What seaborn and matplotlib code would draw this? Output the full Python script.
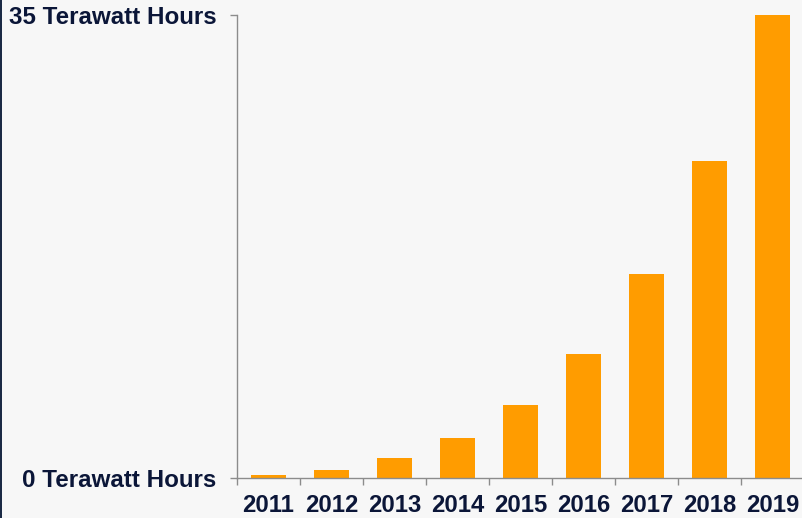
import matplotlib
matplotlib.use("Agg")
import matplotlib.pyplot as plt
import seaborn as sns
import pandas as pd
import numpy as np
from matplotlib.patches import Rectangle

sns.set_theme(style="white")
plt.rcParams["font.family"] = ["Liberation Sans", "DejaVu Sans"]

# data
years = ["2011", "2012", "2013", "2014", "2015", "2016", "2017", "2018", "2019"]
twh = [0.23, 0.6, 1.5, 3.0, 5.5, 9.4, 15.4, 24.0, 35.0]
ytick_vals = [0, 35]
ytick_labels = ["0 Terawatt Hours", "35 Terawatt Hours"]

df = pd.DataFrame({"year": years, "twh": twh})

bg = "#f7f7f7"
navy = "#0b1638"
grey = "#8c8c8c"

fig = plt.figure(figsize=(8.02, 5.18), dpi=100, facecolor=bg)
ax = fig.add_axes([237 / 802, 40 / 518, 567 / 802, 463 / 518])
ax.set_facecolor(bg)

sns.barplot(data=df, x="year", y="twh", color="#ff9c00", saturation=1,
            width=0.57, ax=ax, edgecolor="none")

ax.set_xlim(-0.5, len(years) - 0.5)
ax.set_ylim(0, 35)
ax.set_xlabel("")
ax.set_ylabel("")

# labels at centres, ticks at category boundaries
ax.set_xticks(range(len(years)))
ax.set_xticklabels(years, fontsize=17.2, fontweight="bold", color=navy)
ax.tick_params(axis="x", which="major", length=0, pad=11.5)
ax.set_xticks(np.arange(-0.5, len(years)), minor=True)
ax.tick_params(axis="x", which="minor", length=5, width=1, color=grey,
               direction="out", bottom=True)

ax.set_yticks(ytick_vals)
ax.set_yticklabels(ytick_labels, fontsize=17.4, fontweight="bold", color=navy)
ax.tick_params(axis="y", length=5, width=1, color=grey, direction="out",
               left=True, pad=10)

sns.despine(ax=ax)
for s in ["left", "bottom"]:
    ax.spines[s].set_color(grey)
    ax.spines[s].set_linewidth(1)

# thin dark strip on the left edge
fig.patches.append(Rectangle((0, 0), 2 / 802, 1, transform=fig.transFigure,
                             facecolor="#1b2a45", edgecolor="none"))

fig.savefig("out.png", dpi=100, facecolor=bg)
